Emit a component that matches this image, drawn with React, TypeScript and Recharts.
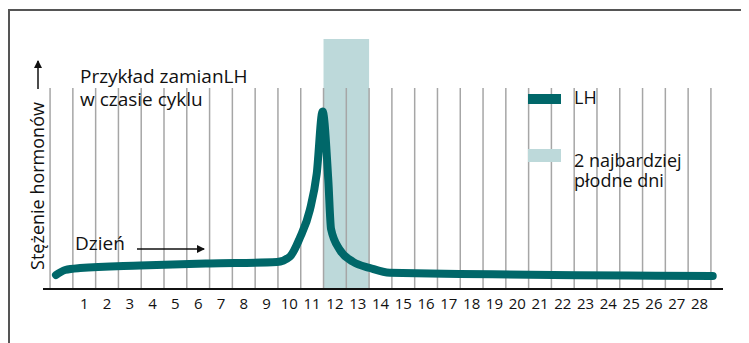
import { ComposedChart, Line, ReferenceArea, ReferenceLine, XAxis, YAxis } from 'recharts';

const dayLabels = [1, 2, 3, 4, 5, 6, 7, 8, 9, 10, 11, 12, 13, 14, 15, 16, 17, 18, 19, 20, 21, 22, 23, 24, 25, 26, 27, 28];
const gridDays = [0, 1, 2, 3, 4, 5, 6, 7, 8, 9, 10, 11, 12, 13, 14, 15, 16, 17, 18, 19, 20, 21, 22, 23, 24, 25, 26, 27, 28, 29];
const lhDays = [0.26, 0.66, 1.32, 3.95, 7.02, 9.96, 10.52, 10.96, 11.4, 11.7, 11.96, 12.21, 12.33, 12.72, 13.29, 14.04, 14.91, 29.08];
const lhValues = [5.6, 7.6, 8.4, 9.4, 10.2, 10.8, 12.9, 20.4, 31.6, 46, 71, 43.6, 24, 15.6, 10.9, 8.4, 6.5, 5.2];
const fertileDays = [12, 14];
const legendItems = [
  { label: ['LH'], color: '#006769', top: 94, h: 10, textY: 104 },
  { label: ['2 najbardziej', 'płodne dni'], color: '#bdd9da', top: 149, h: 13, textY: 167 }
];

const data = lhDays.map((d, i) => ({ day: d, lh: lhValues[i] }));
const font = '"Open Sans", sans-serif';

export default function App() {
  return (
    <div style={{ position: 'relative', width: 749, height: 343, margin: '-8px 0 0 -8px', overflow: 'hidden', background: '#fff' }}>
      <div style={{ position: 'absolute', left: 8, top: 9, width: 732, height: 360, border: '2px solid #555' }} />
      <div style={{ position: 'absolute', left: 0, top: 0 }}>
        <ComposedChart width={749} height={343} data={data} margin={{ top: 39, right: 26, bottom: 24, left: 43 }}>
          <XAxis
            dataKey="day"
            type="number"
            domain={[-0.31, 29.53]}
            allowDataOverflow
            ticks={dayLabels.map((d) => d + 0.5)}
            tickFormatter={(v) => String(v - 0.5)}
            interval={0}
            height={30}
            tickLine={false}
            tickSize={0}
            tickMargin={9}
            axisLine={{ stroke: '#111', strokeWidth: 2 }}
            tick={{ fill: '#111', fontSize: 15, fontFamily: font }}
          />
          <YAxis type="number" domain={[0, 100]} hide allowDataOverflow />
          {gridDays.map((d) => (
            <ReferenceLine
              key={d}
              segment={[{ x: d, y: 0 }, { x: d, y: 80.4 }]}
              stroke="#a6a6a6"
              strokeWidth={1.5}
              ifOverflow="visible"
            />
          ))}
          <ReferenceArea x1={fertileDays[0]} x2={fertileDays[1]} y1={0} y2={100} fill="#bdd9da" fillOpacity={1} stroke="none" ifOverflow="visible" />
          <Line
            dataKey="lh"
            type="monotone"
            stroke="#006769"
            strokeWidth={8}
            strokeLinecap="round"
            strokeLinejoin="round"
            dot={false}
            isAnimationActive={false}
          />
        </ComposedChart>
      </div>
      <svg width={749} height={343} style={{ position: 'absolute', left: 0, top: 0, pointerEvents: 'none' }}>
        <defs>
          <marker id="ah" markerWidth="8" markerHeight="8" refX="7" refY="4" orient="auto" markerUnits="userSpaceOnUse">
            <path d="M0,0 L8,4 L0,8 Z" fill="#111" />
          </marker>
        </defs>
        <g fontFamily={font} fill="#111" fontSize={19}>
          <text x={80} y={83}>Przykład zamianLH</text>
          <text x={80} y={106}>w czasie cyklu</text>
          <text x={75} y={250}>Dzień</text>
          <text x={44} y={186} fontSize={18} textAnchor="middle" transform="rotate(-90 44 186)">Stężenie hormonów</text>
        </g>
        {legendItems.map((item, i) => (
          <g key={i}>
            <rect x={528} y={item.top} width={33} height={item.h} fill={item.color} />
            {item.label.map((l, j) => (
              <text key={l} x={574} y={item.textY + j * 20} fontFamily={font} fontSize={18} fill="#111">{l}</text>
            ))}
          </g>
        ))}
        <line x1={137} y1={249} x2={204} y2={249} stroke="#111" strokeWidth={1.5} markerEnd="url(#ah)" />
        <line x1={38} y1={89} x2={38} y2={61} stroke="#111" strokeWidth={1.5} markerEnd="url(#ah)" />
      </svg>
    </div>
  );
}
